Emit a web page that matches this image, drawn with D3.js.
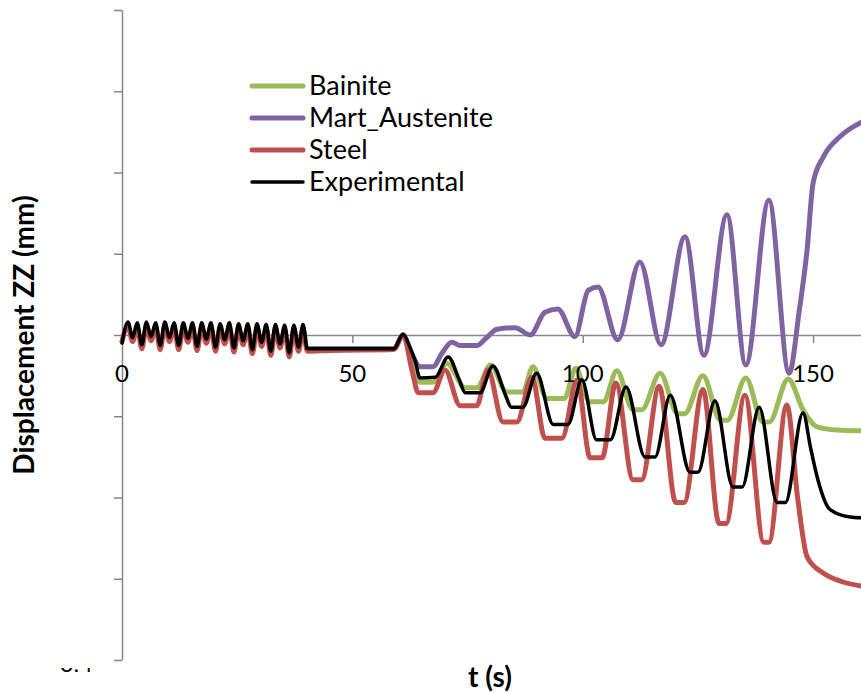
<!DOCTYPE html>
<html>
<head>
<meta charset="utf-8">
<script src="https://cdn.jsdelivr.net/npm/d3@7"></script>
<style>
  body { margin: 0; background: #fff; }
  svg { display: block; font-family: Lato, "Open Sans", sans-serif; }
</style>
</head>
<body>
<svg></svg>
<script>
const width = 861;
const height = 693;

const seriesNames = ['Bainite', 'Mart_Austenite', 'Steel', 'Experimental'];
const xTicks = [0, 50, 100, 150];
const yTicks = [-0.4, -0.3, -0.2, -0.1, 0, 0.1, 0.2, 0.3, 0.4];

// [t (s), displacement (mm)]
const bainite = [
  [40.2, -0.017], [59, -0.017], [61, 0.000], [63, -0.035], [64.7, -0.058], [67.5, -0.058],
  [70.5, -0.035], [74.5, -0.065], [77, -0.065], [80, -0.037], [83.5, -0.070], [87, -0.070],
  [89.2, -0.039], [92.2, -0.078], [96, -0.078], [98.5, -0.041], [101.5, -0.082], [104.5, -0.082],
  [107.4, -0.044], [110.9, -0.092], [112.8, -0.092], [116.8, -0.047], [120.6, -0.097], [122.1, -0.097],
  [126.1, -0.050], [129.9, -0.105], [131.4, -0.105], [135.4, -0.053], [139.1, -0.107], [140.5, -0.107],
  [144.6, -0.054], [147.8, -0.092], [150.9, -0.113], [155.2, -0.117], [160.5, -0.118]
];

const martAustenite = [
  [40.2, -0.017], [59, -0.017], [61, 0.000], [63, -0.025], [64.7, -0.039], [67.5, -0.039],
  [69.5, -0.022], [71.6, -0.009], [73.4, -0.013], [77, -0.013], [79, -0.004], [81.4, 0.007],
  [85.3, 0.009], [88.6, 0.000], [91.8, 0.028], [94.6, 0.032], [98.3, -0.002], [101.2, 0.055],
  [103.3, 0.059], [107.6, -0.006], [112.4, 0.090], [117, -0.012], [122.2, 0.121], [126.3, -0.025],
  [131.3, 0.148], [135.4, -0.037], [140.4, 0.166], [144.8, -0.047], [147, 0.030], [148.7, 0.105],
  [150, 0.187], [152.2, 0.219], [155.8, 0.244], [160.5, 0.262]
];

const steel = [
  [0, -0.008], [1.3, 0.011], [2.3, -0.008], [3.3, 0.010], [4.3, -0.017], [5.3, 0.011],
  [6.3, -0.007], [7.3, 0.010], [8.3, -0.018], [9.3, 0.011], [10.3, -0.008], [11.3, 0.010],
  [12.3, -0.018], [13.3, 0.010], [14.3, -0.009], [15.3, 0.010], [16.3, -0.019], [17.3, 0.010],
  [18.3, -0.010], [19.3, 0.010], [20.3, -0.020], [21.3, 0.009], [22.3, -0.011], [23.3, 0.010],
  [24.3, -0.021], [25.3, 0.009], [26.3, -0.012], [27.3, 0.009], [28.3, -0.023], [29.3, 0.009],
  [30.3, -0.014], [31.3, 0.008], [32.3, -0.025], [33.3, 0.008], [34.3, -0.016], [35.3, 0.007],
  [36.3, -0.027], [37.3, 0.007], [38.3, -0.020], [39.3, 0.008], [40.2, -0.020], [45, -0.019],
  [59, -0.018], [61, 0.000], [63, -0.045], [64.3, -0.071], [67.5, -0.071], [70.1, -0.043],
  [73.4, -0.087], [77, -0.087], [79.4, -0.043], [82.7, -0.107], [85.7, -0.107], [89, -0.052],
  [91.8, -0.127], [95.5, -0.127], [98.8, -0.055], [101.6, -0.151], [104.2, -0.151], [107.2, -0.059],
  [110.9, -0.178], [112.8, -0.178], [116.6, -0.063], [120.2, -0.206], [122, -0.206], [126.1, -0.067],
  [129.6, -0.232], [131.1, -0.232], [135.2, -0.074], [139.3, -0.255], [140.4, -0.255], [144.3, -0.086],
  [146.7, -0.203], [148.7, -0.273], [152.2, -0.293], [156.5, -0.304], [160.5, -0.309]
];

const experimental = [
  [0, -0.010], [1.3, 0.016], [2.3, -0.003], [3.3, 0.015], [4.3, -0.012], [5.3, 0.016],
  [6.3, -0.002], [7.3, 0.015], [8.3, -0.013], [9.3, 0.016], [10.3, -0.003], [11.3, 0.015],
  [12.3, -0.013], [13.3, 0.015], [14.3, -0.004], [15.3, 0.015], [16.3, -0.014], [17.3, 0.015],
  [18.3, -0.005], [19.3, 0.015], [20.3, -0.015], [21.3, 0.014], [22.3, -0.006], [23.3, 0.015],
  [24.3, -0.016], [25.3, 0.014], [26.3, -0.007], [27.3, 0.014], [28.3, -0.018], [29.3, 0.014],
  [30.3, -0.009], [31.3, 0.013], [32.3, -0.020], [33.3, 0.013], [34.3, -0.011], [35.3, 0.012],
  [36.3, -0.022], [37.3, 0.012], [38.3, -0.015], [39.3, 0.013], [40.2, -0.017], [59, -0.017],
  [61, 0.001], [62.5, -0.015], [63.6, -0.031], [64.7, -0.053], [68, -0.052], [70.8, -0.027],
  [73.2, -0.055], [74.5, -0.071], [77.7, -0.071], [80.5, -0.038], [83.3, -0.075], [84.5, -0.089],
  [87, -0.089], [90, -0.047], [93.6, -0.110], [96.8, -0.110], [99.8, -0.055], [103, -0.129],
  [106, -0.129], [109.4, -0.064], [113.5, -0.150], [115.7, -0.150], [119, -0.074], [123.3, -0.169],
  [125, -0.169], [128.7, -0.081], [132.6, -0.187], [134.6, -0.187], [138.3, -0.089], [142.2, -0.206],
  [144, -0.206], [147.8, -0.096], [149.5, -0.140], [150.9, -0.175], [153.7, -0.215], [158, -0.224],
  [160.5, -0.225]
];

const series = [
  { name: seriesNames[0], data: bainite, color: '#9bbb59', w: 5 },
  { name: seriesNames[1], data: martAustenite, color: '#8064a2', w: 5 },
  { name: seriesNames[2], data: steel, color: '#c0504d', w: 5 },
  { name: seriesNames[3], data: experimental, color: '#000000', w: 3.5 }
];

const svg = d3.select('svg').attr('width', width).attr('height', height);

const x = d3.scaleLinear().domain([0, 160.4]).range([122, 861]);
const y = d3.scaleLinear().domain([-0.4, 0.4]).range([660, 10]);

drawAxes();
drawLines();
drawLegend();
drawLabels();

function drawAxes() {
    const yAxis = svg.append('g')
        .attr('transform', `translate(${x(0)},0)`)
        .call(d3.axisLeft(y).tickValues(yTicks).tickSize(8).tickSizeOuter(0).tickFormat(''));
    const xAxis = svg.append('g')
        .attr('transform', `translate(0,${y(0)})`)
        .call(d3.axisBottom(x).tickValues(xTicks.slice(1)).tickSize(8).tickSizeOuter(0).tickFormat(''));
    [yAxis, xAxis].forEach(g => {
        g.selectAll('path, line').attr('stroke', '#868686').attr('stroke-width', 1.5);
    });
}

function drawLines() {
    const line = d3.line()
        .x(d => x(d[0]))
        .y(d => y(d[1]))
        .curve(d3.curveMonotoneX);
    svg.append('g').selectAll('path')
        .data(series)
        .enter().append('path')
        .attr('d', d => line(d.data))
        .attr('fill', 'none')
        .attr('stroke', d => d.color)
        .attr('stroke-width', d => d.w)
        .attr('stroke-linejoin', 'round')
        .attr('stroke-linecap', 'round');
}

function drawLegend() {
    const legend = svg.append('g').attr('transform', 'translate(250,86)');
    const rows = legend.selectAll('g')
        .data(series)
        .enter().append('g')
        .attr('transform', (d, i) => `translate(0,${i * 32})`);
    rows.append('line')
        .attr('x1', 2).attr('x2', 53)
        .attr('stroke', d => d.color)
        .attr('stroke-width', d => d.w)
        .attr('stroke-linecap', 'round');
    rows.append('text')
        .attr('x', 59)
        .attr('dy', '0.35em')
        .style('font-size', '27px')
        .text(d => d.name);
}

function drawLabels() {
    svg.append('g').selectAll('text')
        .data(xTicks)
        .enter().append('text')
        .attr('x', d => x(d))
        .attr('y', y(0) + 47)
        .attr('text-anchor', 'middle')
        .style('font-size', '24px')
        .text(d => d);

    // bottom y tick label is clipped by the picture frame, only its foot shows
    svg.append('clipPath').attr('id', 'cut')
        .append('rect').attr('x', 40).attr('y', 668).attr('width', 80).attr('height', 4);
    svg.append('text')
        .attr('x', 93).attr('y', 671.5)
        .attr('text-anchor', 'end')
        .attr('clip-path', 'url(#cut)')
        .style('font-size', '24px')
        .text('-0,4');

    svg.append('text')
        .attr('x', 490).attr('y', 687)
        .attr('text-anchor', 'middle')
        .style('font-size', '28px').style('font-weight', 'bold')
        .text('t (s)');

    svg.append('text')
        .attr('transform', `translate(34,${y(0)}) rotate(-90)`)
        .attr('text-anchor', 'middle')
        .style('font-size', '28px').style('font-weight', 'bold')
        .text('Displacement ZZ (mm)');
}
</script>
</body>
</html>
